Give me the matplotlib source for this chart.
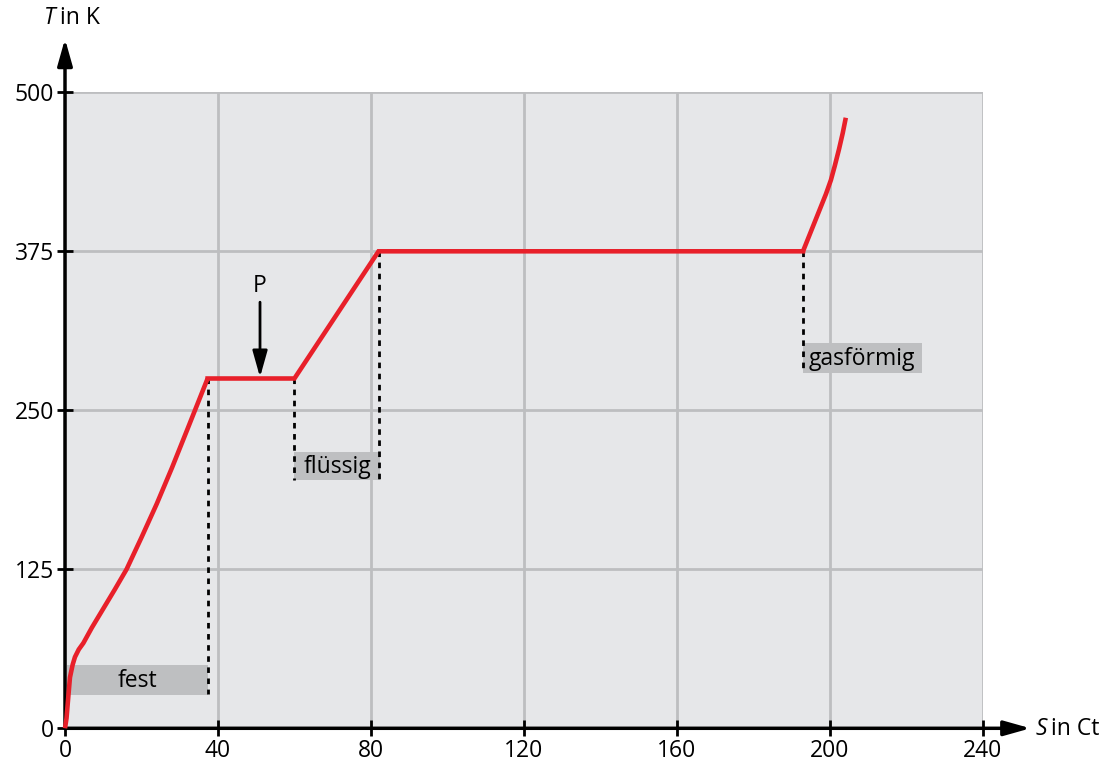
import matplotlib
matplotlib.use("Agg")
import matplotlib.pyplot as plt
from matplotlib.patches import Rectangle

plt.rcParams['font.family'] = ['Open Sans', 'DejaVu Sans']

# Heating curve: temperature T (K) vs. energy S (Ct)
solid_S = [0, 0.4, 0.87, 1.3, 2.0, 2.6, 3.6, 4.8, 7, 10, 13, 16.1, 20, 24, 28, 32, 37.3]
solid_T = [0, 8, 25, 40, 50, 56, 62, 67, 79, 94, 109, 125, 150, 176.5, 205, 235, 275]
mid_S = [37.3, 60, 82, 193]
mid_T = [275, 275, 375, 375]
gas_S = [193, 196.6, 199, 200.3, 201.3, 202.4, 203.4, 204.2]
gas_T = [375, 402, 420, 431, 442, 455, 468, 480]

x_ticks = [0, 40, 80, 120, 160, 200, 240]
y_ticks = [0, 125, 250, 375, 500]

# Phase labels: text, left S, right S, bottom T, top T
phase_labels = [
    ("fest", 0.4, 37.5, 26, 50),
    ("flüssig", 60, 82.5, 195, 217.5),
    ("gasförmig", 193, 224, 279, 303),
]
# Dotted drop lines: S, upper T, lower T
dotted_lines = [(37.5, 275, 27), (60, 275, 195), (82.2, 375, 195), (193, 375, 279)]

W, H = 1111, 764
fig = plt.figure(figsize=(W / 100, H / 100), dpi=100)
ax = fig.add_axes([65 / W, (H - 728.3) / H, (982.7 - 65) / W, (728.3 - 92.3) / H])
ax.set_facecolor('#e6e7e9')
ax.set_xlim(0, 240)
ax.set_ylim(0, 500)
for s in ax.spines.values():
    s.set_visible(False)

ax.set_xticks(x_ticks)
ax.set_yticks(y_ticks)
ax.grid(True, color='#bdbec0', lw=2)
ax.set_axisbelow(True)
ax.tick_params(direction='inout', length=12, width=2, color='black',
               labelsize=16.5, pad=2)

red = '#e8202a'
ax.plot(solid_S, solid_T, color=red, lw=3.3, solid_capstyle='butt',
        solid_joinstyle='round', zorder=5, clip_on=False)
ax.plot(mid_S, mid_T, color=red, lw=3.3, solid_joinstyle='miter', zorder=5)
ax.plot(gas_S, gas_T, color=red, lw=3.3, solid_capstyle='butt',
        solid_joinstyle='round', zorder=5)

for xs, t0, t1 in dotted_lines:
    ax.plot([xs, xs], [t0, t1], color='black', lw=2, ls=(0, (2, 2)), zorder=4)

for text, x0, x1, y0, y1 in phase_labels:
    ax.add_patch(Rectangle((x0, y0), x1 - x0, y1 - y0, facecolor='#bebfc1',
                           edgecolor='none', zorder=3))
    ax.text((x0 + x1) / 2, (y0 + y1) / 2 - 1, text, ha='center', va='center',
            fontsize=16.5, zorder=6)

# Marker P on the melting plateau
ax.annotate("", xy=(51, 276), xytext=(51, 335),
            arrowprops=dict(arrowstyle='-|>,head_length=1.6,head_width=0.45',
                            color='black', lw=2, shrinkA=0, shrinkB=0), zorder=6)
ax.text(51, 348, "P", ha='center', va='center', fontsize=16.5)

# Axis arrows
ax.annotate("", xy=(0, 542), xytext=(0, 0), annotation_clip=False,
            arrowprops=dict(arrowstyle='-|>,head_length=1.6,head_width=0.45',
                            color='black', lw=2.5, shrinkA=0, shrinkB=0))
ax.annotate("", xy=(252.5, 0), xytext=(0, 0), annotation_clip=False,
            arrowprops=dict(arrowstyle='-|>,head_length=1.6,head_width=0.45',
                            color='black', lw=2.5, shrinkA=0, shrinkB=0))

fig.text(44 / W, 1 - 18 / H, "T", fontsize=16.5, va='center', ha='left',
         style='italic')
fig.text(60 / W, 1 - 18 / H, "in K", fontsize=16.5, va='center', ha='left')
fig.text(1036 / W, 1 - 729 / H, "S", fontsize=16.5, va='center', ha='left',
         style='italic')
fig.text(1051 / W, 1 - 729 / H, "in Ct", fontsize=16.5, va='center', ha='left')

fig.savefig("out.png", dpi=100)
